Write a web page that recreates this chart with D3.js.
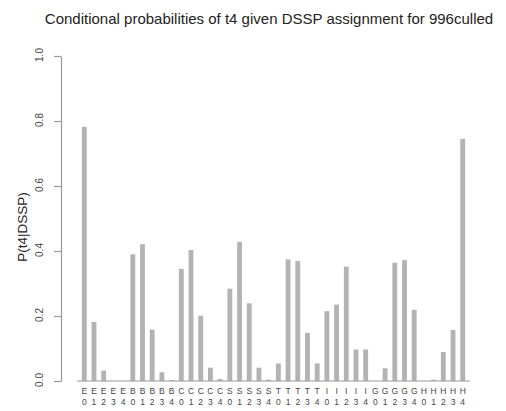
<!DOCTYPE html>
<html>
<head>
<meta charset="utf-8">
<script src="https://cdn.jsdelivr.net/npm/d3@7"></script>
<style>
  body { margin: 0; background: #fff; }
  text { font-family: "Liberation Sans", Helvetica, Arial, sans-serif; }
</style>
</head>
<body>
<div id="container"></div>
<script>
// svg size
const width = 506;
const height = 411;

// data: DSSP state + t4 value
const states = ["E", "B", "C", "S", "T", "I", "G", "H"];
const levels = ["0", "1", "2", "3", "4"];
const probE = [0.782, 0.182, 0.032, 0, 0];
const probB = [0.390, 0.421, 0.158, 0.027, 0.003];
const probC = [0.345, 0.403, 0.201, 0.041, 0.006];
const probS = [0.284, 0.428, 0.239, 0.041, 0.004];
const probT = [0.054, 0.374, 0.369, 0.148, 0.054];
const probI = [0.215, 0.235, 0.352, 0.097, 0.097];
const probG = [0, 0.039, 0.364, 0.372, 0.219];
const probH = [0, 0.004, 0.089, 0.157, 0.745];
const yTicks = [0, 0.2, 0.4, 0.6, 0.8, 1.0];

const titleText = "Conditional probabilities of t4 given DSSP assignment for 996culled";
const yLabel = "P(t4|DSSP)";

// colours
const barColor = "#b3b3b3";
const axisColor = "#9a9a9a";
const textColor = "#222";

const allProbs = [probE, probB, probC, probS, probT, probI, probG, probH];
const data = [];
states.forEach((s, i) => levels.forEach((l, j) => {
    data.push({state: s, level: l, value: allProbs[i][j]});
}));

// R barplot style: bar width 1, space 1 -> bar i spans [1+2i, 2+2i]
const x = d3.scaleLinear().domain([0, 81]).range([77, 470]);
const y = d3.scaleLinear().domain([0, 1]).range([381, 56]);

const svg = d3.select("#container").append("svg")
      .attr("width", width)
      .attr("height", height);

svg.append("text")
    .attr("x", 269)
    .attr("y", 23.5)
    .attr("text-anchor", "middle")
    .attr("font-size", 15)
    .attr("fill", textColor)
    .text(titleText);

// bars
svg.append("g").selectAll("rect")
    .data(data)
    .join("rect")
    .attr("x", (d, i) => x(1 + 2 * i))
    .attr("width", x(2) - x(1))
    .attr("y", d => y(d.value))
    .attr("height", d => y(0) - y(d.value))
    .attr("fill", barColor);

// baseline
svg.append("line")
    .attr("x1", x(0)).attr("x2", x(81))
    .attr("y1", y(0)).attr("y2", y(0))
    .attr("stroke", axisColor)
    .attr("stroke-width", 1.2);

// y axis
const yAxis = svg.append("g")
    .attr("transform", "translate(61,0)")
    .call(d3.axisLeft(y).tickValues(yTicks).tickFormat(d3.format(".1f")).tickSize(7).tickSizeOuter(0));
yAxis.select(".domain").attr("stroke", axisColor).attr("stroke-width", 1.2);
yAxis.selectAll(".tick line").attr("stroke", axisColor).attr("stroke-width", 1.2);
yAxis.selectAll(".tick text")
    .attr("x", null).attr("dy", null)
    .attr("transform", "translate(-22,-1.5) rotate(-90)")
    .attr("text-anchor", "middle")
    .attr("dominant-baseline", "central")
    .attr("font-size", 10)
    .attr("font-family", "Liberation Sans, Helvetica, Arial, sans-serif")
    .attr("fill", "#444");

svg.append("text")
    .attr("transform", "translate(26.5,227) rotate(-90)")
    .attr("text-anchor", "middle")
    .attr("font-size", 13.5)
    .attr("fill", textColor)
    .text(yLabel);

// x labels: two lines, state then level
const xl = svg.append("g").selectAll("g")
    .data(data)
    .join("g")
    .attr("transform", (d, i) => `translate(${x(1.5 + 2 * i)},0)`);
xl.append("text")
    .attr("y", 394)
    .attr("text-anchor", "middle")
    .attr("font-size", 8.5)
    .attr("fill", "#444")
    .text(d => d.state);
xl.append("text")
    .attr("y", 405)
    .attr("text-anchor", "middle")
    .attr("font-size", 8.5)
    .attr("fill", "#444")
    .text(d => d.level);
</script>
</body>
</html>
